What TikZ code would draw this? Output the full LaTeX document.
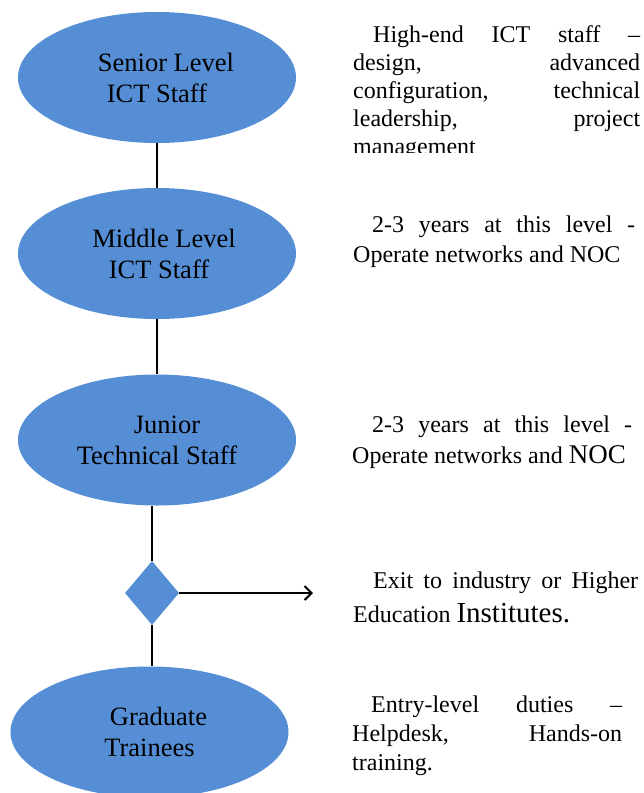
\documentclass[tikz,border=0pt]{standalone}
\usepackage{fontspec}
\setmainfont{Liberation Serif}
\usetikzlibrary{shapes.geometric,arrows.meta}
\definecolor{levelblue}{RGB}{85,142,213}

\begin{document}
\begin{tikzpicture}[x=1pt,y=1pt,
    level/.style={ellipse, fill=levelblue, minimum width=278pt, minimum height=131pt,
        inner sep=0pt, align=center, font=\fontsize{26.5}{31}\selectfont},
    desc/.style={anchor=base west, align=justify, inner sep=0pt},
    link/.style={line width=2pt}]
    % Fix the page size
    \useasboundingbox (0,0) rectangle (644,-793);

    % Draw the career levels
    \node[level] (senior) at (157,-77.5) {\hspace*{18pt}Senior Level\\ICT Staff};
    \node[level] (middle) at (157,-253.5) {\hspace*{14pt}Middle Level\\\hspace*{4pt}ICT Staff};
    \node[level] (junior) at (157,-440) {\hspace*{20pt}Junior\\Technical Staff};
    \node[diamond, fill=levelblue, minimum width=54pt, minimum height=64pt, inner sep=0pt] (exit) at (152,-593) {};
    \node[level] (grad) at (149.5,-732) {\hspace*{18pt}Graduate\\Trainees};

    % Connect the levels
    \draw[link] (senior) -- (middle);
    \draw[link] (middle) -- (junior);
    \draw[link] (junior.south -| exit.north) -- (exit.north);
    \draw[link] (exit.south) -- (exit.south |- grad.north);

    % Exit arrow
    \coordinate (exitend) at (313,-593);
    \draw[link, -{Straight Barb[length=7pt,width=14pt]}] (exit.east) -- (exitend);

    % Descriptions next to each level
    \begin{scope}
        \clip (340,0) rectangle (644,-152);
        \node[desc, text width=287pt, font=\fontsize{24}{28}\selectfont] (seniortxt) at (353,-42)
            {\hspace*{20pt}High-end ICT staff –\linebreak design, advanced\linebreak configuration, technical\linebreak leadership, project\linebreak management};
    \end{scope}
    \node[desc, text width=282pt, font=\fontsize{24}{30}\selectfont] (middletxt) at (353,-232)
        {\hspace*{19pt}2-3 years at this level -\linebreak Operate networks and NOC};
    \node[desc, text width=280pt, font=\fontsize{24}{31}\selectfont] (juniortxt) at (352,-432)
        {\hspace*{20pt}2-3 years at this level -\linebreak Operate networks and {\fontsize{27}{31}\selectfont NOC}};
    \node[desc, text width=285pt, font=\fontsize{24}{34}\selectfont] (exittxt) at (353,-588)
        {\hspace*{20pt}Exit to industry or Higher\linebreak Education {\fontsize{29}{34}\selectfont Institutes.}};
    \node[desc, text width=270pt, font=\fontsize{24}{29}\selectfont] (gradtxt) at (352,-712)
        {\hspace*{19pt}Entry-level duties –\linebreak Helpdesk, Hands-on\linebreak training.};

\end{tikzpicture}
\end{document}
